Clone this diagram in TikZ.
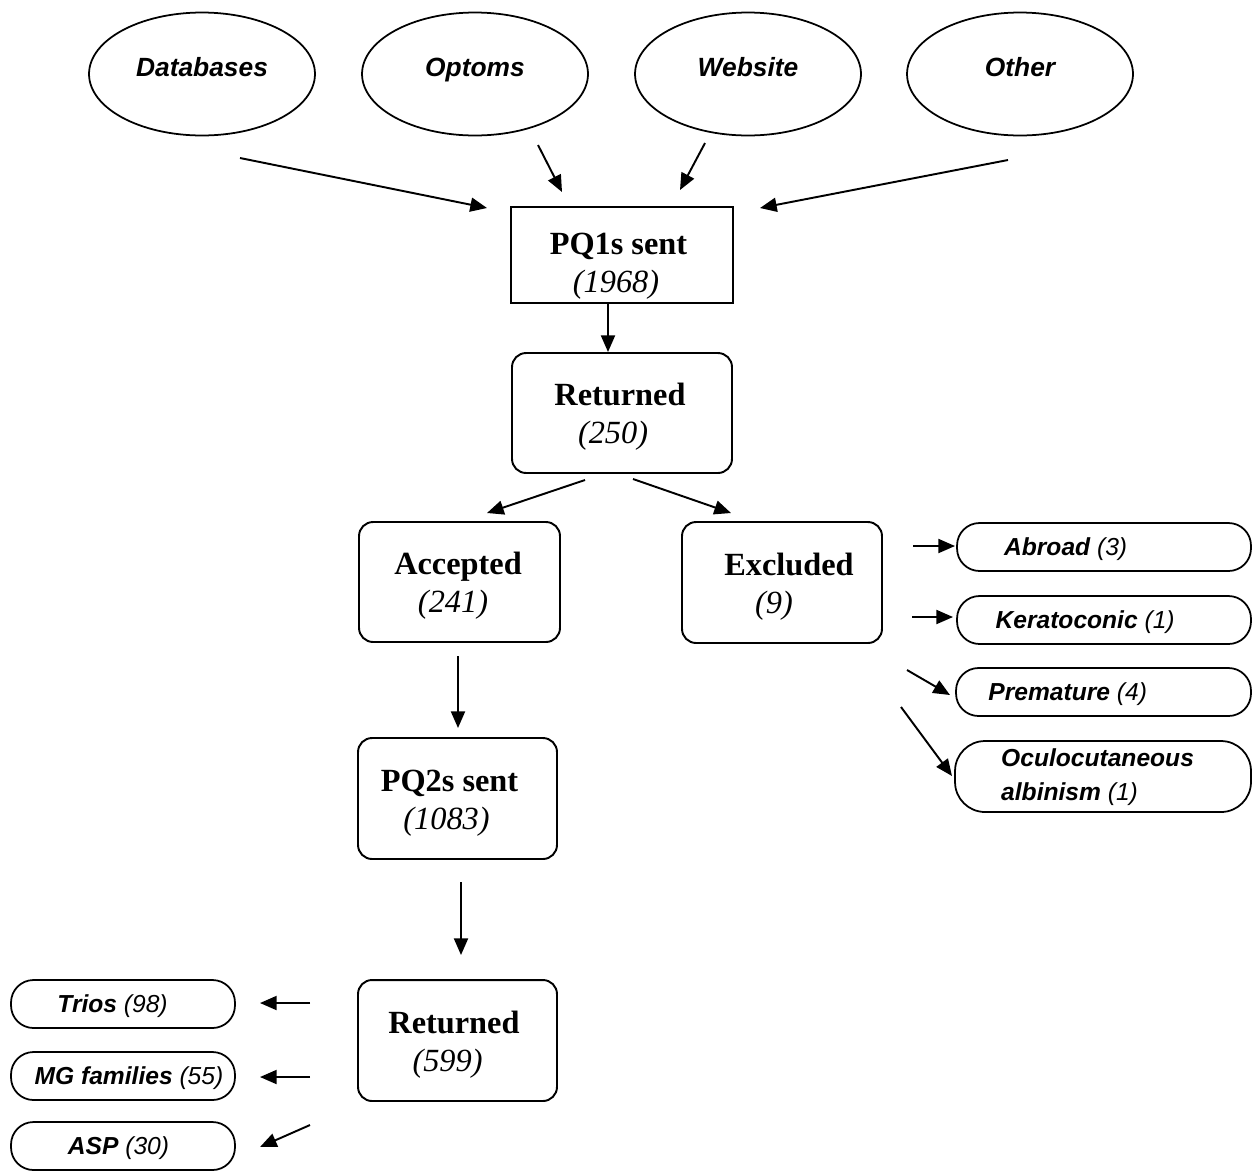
\documentclass[tikz,border=0pt]{standalone}
\usepackage{fontspec}
\setmainfont{Liberation Serif}
\newfontfamily\arialf{Liberation Sans}
\usetikzlibrary{shapes.geometric,arrows.meta}
\newcommand\shiftx[2]{\makebox[0pt]{\hspace*{#1}#2}}
\newcommand\boxtext[4]{\begin{tabular}{@{}c@{}}\shiftx{#1}{#2}\\\shiftx{#3}{\mdseries\itshape #4}\end{tabular}}
\newcommand\lowered[2]{\raisebox{#1}[\height][\depth]{#2}}
\newcommand\topword[1]{\raisebox{4pt}[10.7pt][0pt]{#1}}
\newcommand\num[1]{{\mdseries #1}}
\tikzset{
  topell/.style={ellipse, draw, line width=1pt, minimum width=4.52cm, minimum height=2.46cm, inner sep=0pt,
    font=\arialf\bfseries\itshape\fontsize{15}{18}\selectfont},
  sqbox/.style={rectangle, draw, line width=1.1pt, inner sep=0pt, font=\fontsize{18.4}{21.6}\selectfont\bfseries},
  rbox/.style={sqbox, rounded corners=8pt},
  pill/.style={rectangle, draw, line width=1pt, rounded corners=0.45cm, minimum width=4.48cm, minimum height=0.96cm,
    inner sep=0pt, font=\arialf\bfseries\itshape\fontsize{14}{16.8}\selectfont},
  oneline/.style={text height=10pt, text depth=0pt},
  arr/.style={-{Triangle[length=9.5pt,width=8pt]}, line width=1.1pt},
}
\begin{document}
\begin{tikzpicture}[x=0.02cm,y=-0.02cm]
\useasboundingbox (0,0) rectangle (1253,1171);
\fill[white] (0,0) rectangle (1253,1171);

% top sources
\node[topell] (db)  at (202,74)  {\topword{Databases}};
\node[topell] (op)  at (475,74)  {\topword{Optoms}};
\node[topell] (web) at (748,74)  {\topword{Website}};
\node[topell] (oth) at (1020,74) {\topword{Other}};

% main boxes
\node[sqbox, minimum width=4.44cm, minimum height=1.92cm] (pq1) at (622,255)
  {\lowered{-6.4pt}{\boxtext{-4pt}{PQ1s sent}{-6.8pt}{(1968)}}};
\node[rbox, minimum width=4.4cm, minimum height=2.4cm] (ret1) at (622,413)
  {\lowered{-2.3pt}{\boxtext{-2.3pt}{Returned}{-10.2pt}{(250)}}};
\node[rbox, minimum width=4.02cm, minimum height=2.4cm] (acc) at (459.5,582)
  {\lowered{-2.3pt}{\boxtext{-1.7pt}{Accepted}{-7.4pt}{(241)}}};
\node[rbox, minimum width=4.0cm, minimum height=2.42cm] (exc) at (782,582.5)
  {\lowered{-2.3pt}{\boxtext{7.9pt}{Excluded}{-9.1pt}{(9)}}};
\node[rbox, minimum width=3.98cm, minimum height=2.42cm] (pq2) at (457.5,798.5)
  {\lowered{-2.3pt}{\boxtext{-9.1pt}{PQ2s sent}{-12.5pt}{(1083)}}};
\node[rbox, minimum width=3.98cm, minimum height=2.42cm] (ret2) at (457.5,1040.5)
  {\lowered{-2.3pt}{\boxtext{-4pt}{Returned}{-11.3pt}{(599)}}};

% exclusion reasons
\node[pill, oneline, minimum width=5.88cm] (abr) at (1104,547) {\shiftx{-43.7pt}{Abroad \num{(3)}}};
\node[pill, oneline, minimum width=5.88cm] (ker) at (1104,620) {\shiftx{-21.5pt}{Keratoconic \num{(1)}}};
\node[pill, oneline, minimum width=5.9cm] (pre) at (1103.5,692) {\shiftx{-40.8pt}{Premature \num{(4)}}};
\node[pill, minimum width=5.92cm, minimum height=1.42cm, rounded corners=0.6cm] (ocu) at (1103,776.5)
  {\fontsize{14}{19.3}\selectfont\shiftx{-6.2pt}{\begin{tabular}{@{}l@{}}Oculocutaneous\\albinism \num{(1)}\end{tabular}}};

% returned categories
\node[pill, oneline] (tri) at (123,1004) {\shiftx{-11.9pt}{Trios \num{(98)}}};
\node[pill, oneline] (mg)  at (123,1076) {\shiftx{6.8pt}{MG families \num{(55)}}};
\node[pill, oneline] (asp) at (123,1146) {\shiftx{-5.1pt}{ASP \num{(30)}}};

% connector end points
\coordinate (a1s) at (240,158);  \coordinate (a1e) at (487,208);
\coordinate (a2s) at (538,145);  \coordinate (a2e) at (562,192);
\coordinate (a3s) at (705,143);  \coordinate (a3e) at (680,190);
\coordinate (a4s) at (1008,160); \coordinate (a4e) at (760,208);
\coordinate (a5s) at (608,304);  \coordinate (a5e) at (608,352);
\coordinate (a6s) at (585,480);  \coordinate (a6e) at (487,513);
\coordinate (a7s) at (633,479);  \coordinate (a7e) at (731,513);
\coordinate (a8s) at (913,546);  \coordinate (a8e) at (955,546);
\coordinate (a9s) at (912,617);  \coordinate (a9e) at (953,617);
\coordinate (a10s) at (907,670); \coordinate (a10e) at (950,695);
\coordinate (a11s) at (901,707); \coordinate (a11e) at (952,776);
\coordinate (a12s) at (458,656); \coordinate (a12e) at (458,728);
\coordinate (a13s) at (461,882); \coordinate (a13e) at (461,955);
\coordinate (a14s) at (310,1003); \coordinate (a14e) at (260,1003);
\coordinate (a15s) at (310,1077); \coordinate (a15e) at (260,1077);
\coordinate (a16s) at (310,1125); \coordinate (a16e) at (260,1147);

\foreach \i in {1,...,16} { \draw[arr] (a\i s) -- (a\i e); }
\end{tikzpicture}
\end{document}
